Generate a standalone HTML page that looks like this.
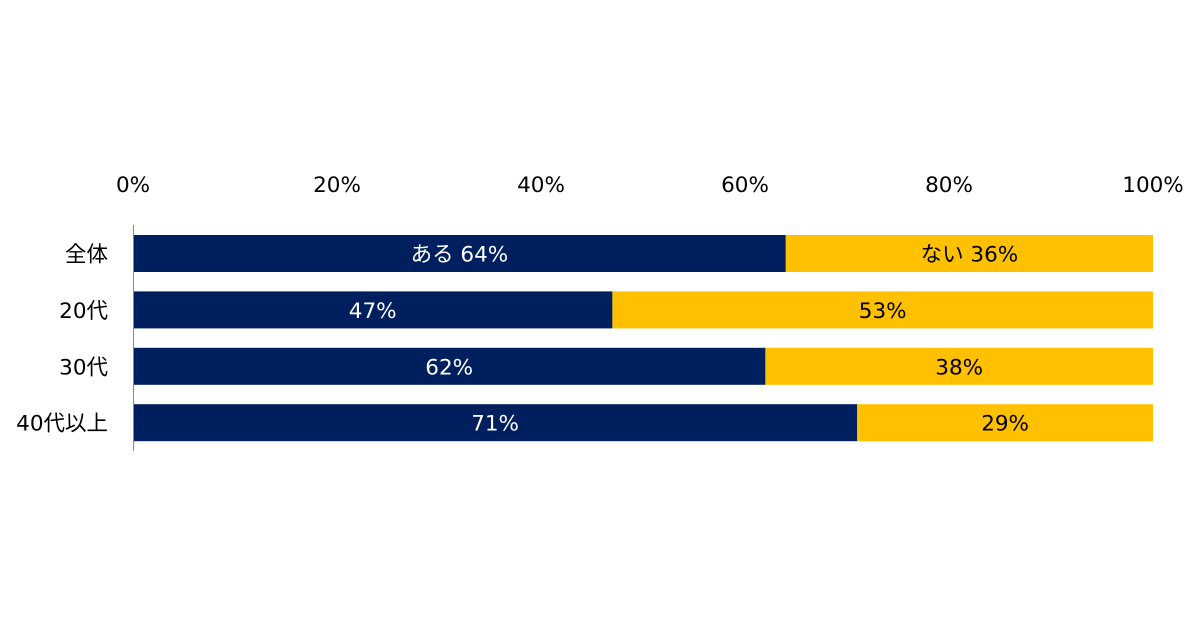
<!DOCTYPE html>
<html><head><meta charset="utf-8"><style>
body{margin:0;background:#fff;}
svg text{font-family:"DejaVu Sans","Noto Sans CJK JP",sans-serif;}
</style></head><body>
<svg id="chart" width="1200" height="630" xmlns="http://www.w3.org/2000/svg"></svg>
<script>
const categories=["全体","20代","30代","40代以上"];
const yesValues=[64,47,62,71];
const noValues=[36,53,38,29];
const yesPrefix=["ある ","","",""];
const noPrefix=["ない ","","",""];
const ticks=[0,20,40,60,80,100];
const NS="http://www.w3.org/2000/svg";
const svg=document.getElementById("chart");
const x0=133,x1=1153;
const xs=v=>x0+(x1-x0)*v/100;
const barH=37;
const yb=i=>235+i*56.4;
function mk(tag,attrs,parent){const e=document.createElementNS(NS,tag);for(const k in attrs)e.setAttribute(k,attrs[k]);(parent||svg).appendChild(e);return e;}
ticks.forEach(t=>{
  const e=mk("text",{x:xs(t),y:192,"text-anchor":"middle","font-size":21.5,fill:"#000"});
  e.textContent=t+"%";
  
  
});
categories.forEach((c,i)=>{
  const y=yb(i);
  const lab=mk("text",{x:108,y:y+barH/2+8,"text-anchor":"end","font-size":21.5,fill:"#000"});
  lab.textContent=c;
  
  
  const r1=mk("rect",{x:xs(0),y:y,width:xs(yesValues[i])-xs(0),height:barH,fill:"#001f5f"});
  
  
  const r2=mk("rect",{x:xs(yesValues[i]),y:y,width:xs(yesValues[i]+noValues[i])-xs(yesValues[i]),height:barH,fill:"#ffc000"});
  
  
  const t1=mk("text",{x:(xs(0)+xs(yesValues[i]))/2,y:y+barH/2+8,"text-anchor":"middle","font-size":21.5,fill:"#fff"});
  t1.textContent=yesPrefix[i]+yesValues[i]+"%";
  
  
  const t2=mk("text",{x:(xs(yesValues[i])+xs(yesValues[i]+noValues[i]))/2,y:y+barH/2+8,"text-anchor":"middle","font-size":21.5,fill:"#000"});
  t2.textContent=noPrefix[i]+noValues[i]+"%";
  
  
});
const ax=mk("line",{x1:133.5,x2:133.5,y1:225,y2:451,stroke:"#888","stroke-width":1});


</script>
</body></html>
